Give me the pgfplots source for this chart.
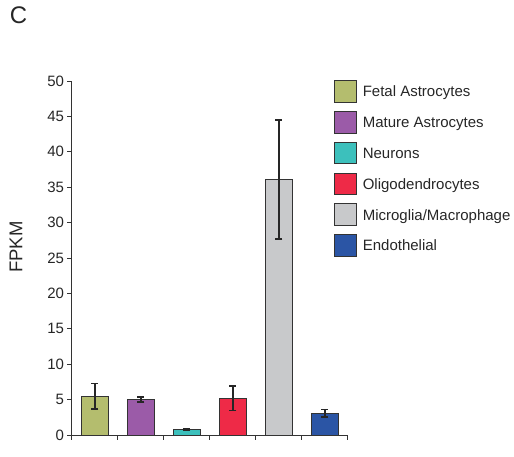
\documentclass[border=0pt]{standalone}
\usepackage{pgfplots}
\pgfplotsset{compat=1.18}
\usepackage{fontspec}
\setmainfont{Liberation Sans}
\definecolor{cFetal}{HTML}{B4BD6E}
\definecolor{cMature}{HTML}{9B5BA8}
\definecolor{cNeur}{HTML}{3CC0BC}
\definecolor{cOligo}{HTML}{EE2A47}
\definecolor{cMicro}{HTML}{C8C9CB}
\definecolor{cEndo}{HTML}{2B55A5}
\definecolor{edge}{HTML}{333333}
\begin{document}
\begin{tikzpicture}
\useasboundingbox (0,0) rectangle (514pt,456pt);
\node[font=\fontsize{24}{28}\selectfont, text=black!85] at (18.5pt,441pt) {C};
\begin{axis}[
  at={(72pt,21pt)}, anchor=south west,
  scale only axis, width=276pt, height=354pt,
  xmin=-0.5, xmax=5.5, ymin=0, ymax=50,
  axis x line*=bottom, axis y line*=left,
  axis line style={edge, line width=1pt},
  xtick={-0.5,0.5,...,5.5}, xticklabels={},
  ytick={0,5,...,50},
  tick align=outside, major tick length=4.5pt,
  tick style={edge, line width=1pt},
  /pgf/number format/assume math mode=true,
  tick label style={font=\fontsize{15}{18}\selectfont, text=black!85},
  ylabel={FPKM},
  ylabel style={at={(axis description cs:-0.203,0.531)}, anchor=center, font=\fontsize{18.5}{22}\selectfont, text=black!85},
  ybar, bar width=27pt, bar shift=0pt,
  every axis plot/.append style={draw=edge, line width=1pt},
  error bars/y dir=both, error bars/y explicit,
  error bars/error bar style={black!85, line width=1.6pt},
  error bars/error mark options={rotate=90, mark size=3.5pt, line width=1.6pt, black!85},
  legend cell align=left,
  legend style={at={(axis description cs:0.949,1.003)}, anchor=north west,
    draw=none, fill=none, inner sep=0pt, row sep=8.1pt, column sep=6pt,
    font=\fontsize{15}{18}\selectfont,
    nodes={inner sep=0pt, text=black!85, text height=11pt, text depth=3.5pt, anchor=base west}},
  legend image code/.code={\draw[#1, line width=1pt] (0pt,-5.4pt) rectangle (21.7pt,16.3pt);},
]
\addplot[fill=cFetal] coordinates {(0,5.5) +- (0,1.8)};
\addlegendentry{Fetal Astrocytes}
\addplot[fill=cMature] coordinates {(1,5.04) +- (0,0.37)};
\addlegendentry{Mature Astrocytes}
\addplot[fill=cNeur] coordinates {(2,0.75) +- (0,0.06)};
\addlegendentry{Neurons}
\addplot[fill=cOligo] coordinates {(3,5.2) +- (0,1.72)};
\addlegendentry{Oligodendrocytes}
\addplot[fill=cMicro] coordinates {(4,36.1) +- (0,8.4)};
\addlegendentry{Microglia/Macrophage}
\addplot[fill=cEndo] coordinates {(5,3.06) +- (0,0.53)};
\addlegendentry{Endothelial}
\end{axis}
\end{tikzpicture}
\end{document}
